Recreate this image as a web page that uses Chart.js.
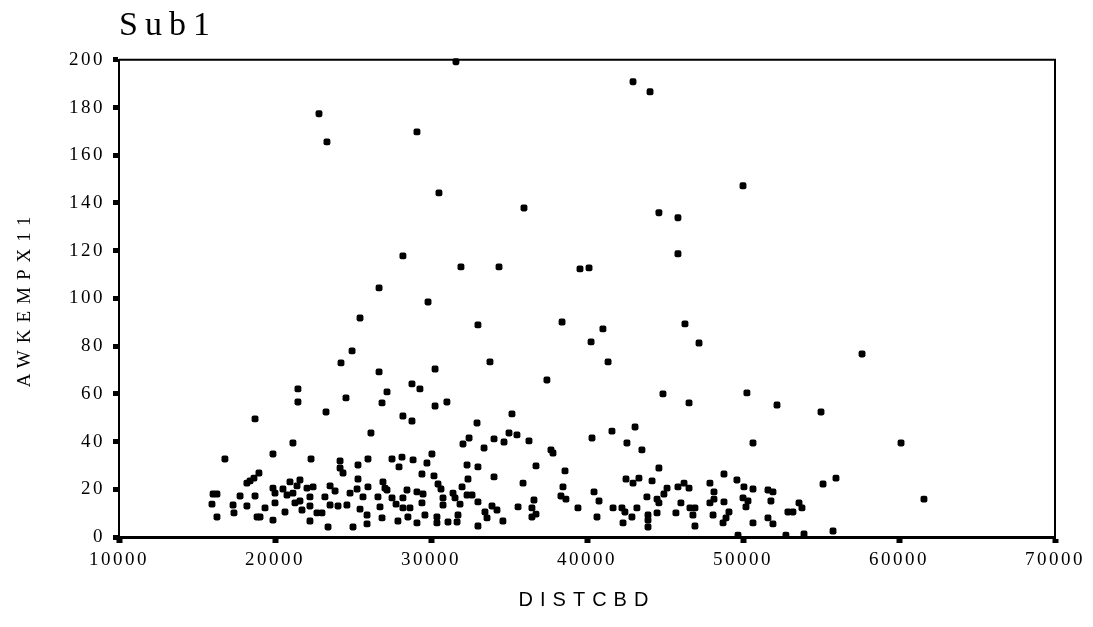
<!DOCTYPE html>
<html>
<head>
<meta charset="utf-8">
<script src="https://cdn.jsdelivr.net/npm/chart.js@4.4.0/dist/chart.umd.min.js"></script>
<style>
html, body { margin: 0; padding: 0; background: #fff; }
#wrap { width: 1093px; height: 627px; }
</style>
</head>
<body>
<div id="wrap"><canvas id="scatter-chart" width="1093" height="627"></canvas></div>
<script>
// tick labels
var xTicks = [10000, 20000, 30000, 40000, 50000, 60000, 70000];
var yTicks = [0, 20, 40, 60, 80, 100, 120, 140, 160, 180, 200];

// scattered high values
var upperX = [22820, 23330, 29100, 31600, 30510, 35960, 28200, 31920, 34360, 39550, 40130, 42950, 44040, 44610, 45830, 45830, 50000, 57630,
    25450, 24940, 24230, 26670, 29810, 33010, 38400, 41020, 46280, 40260, 47180, 41350, 33780, 30260, 26670, 37430];
var upperY = [177.4, 165.6, 169.8, 199.2, 144.2, 137.9, 117.8, 113.2, 113.2, 112.4, 112.8, 190.8, 186.6, 135.9, 133.8, 118.7, 147.2, 76.7,
    91.8, 78.0, 73.0, 104.4, 98.5, 88.9, 90.1, 87.2, 89.3, 81.8, 81.3, 73.4, 73.4, 70.4, 69.2, 65.8];

// dense band, DISTCBD < 25500
var bandAX = [16030, 16280, 15960, 16280, 16790, 17310, 17370, 17760, 18200, 18200, 18400, 18650, 18970, 18720, 18850, 19040, 18720, 19360,
    19870, 20000, 19870, 20000, 20510, 20770, 20640, 20960, 21150, 21280, 21150, 19870, 21410, 21600, 21600, 21730, 21470, 21470,
    22050, 22240, 22240, 22440, 22310, 22690, 22240, 23010, 23200, 23400, 23530, 23530, 23850, 24040, 24170, 24170, 24360, 24550,
    24610, 24810, 25000, 25260, 25320, 25320, 25450, 23270];
var bandAY = [18.0, 18.0, 13.8, 8.4, 32.7, 13.4, 10.1, 17.2, 13.0, 22.6, 23.5, 24.7, 26.8, 17.2, 8.4, 8.4, 49.5, 12.2,
    7.1, 14.3, 20.5, 18.4, 20.1, 17.6, 10.5, 23.1, 18.4, 14.3, 39.4, 34.8, 21.4, 23.9, 15.1, 11.3, 62.1, 56.6,
    20.5, 16.8, 13.0, 21.0, 32.7, 10.1, 6.7, 10.1, 16.8, 4.2, 13.4, 21.4, 19.3, 13.0, 31.9, 28.9, 26.8, 58.3,
    13.4, 18.4, 4.2, 20.1, 24.3, 30.2, 11.7, 52.4];

// 25500 - 31000
var bandBX = [25640, 25900, 25900, 25960, 25960, 26150, 26600, 26730, 26860, 26860, 26920, 27050, 27180, 27180, 27500, 27500,
    27760, 27880, 27950, 28140, 28200, 28200, 28200, 28460, 28520, 28650, 28780, 28780, 28850, 29100, 29100, 29290,
    29420, 29420, 29490, 29610, 29740, 30060, 30190, 30260, 30380, 30380, 30450, 30640, 30770, 30770];
var bandBY = [16.8, 9.2, 5.5, 32.7, 21.0, 43.6, 16.8, 12.6, 8.0, 56.2, 23.1, 20.5, 19.7, 60.8, 32.7, 16.4,
    13.8, 6.7, 29.4, 33.5, 50.7, 16.4, 12.2, 19.7, 8.4, 12.2, 64.2, 48.6, 32.3, 18.9, 5.9, 62.1,
    26.4, 14.3, 18.0, 9.2, 31.0, 34.8, 25.6, 54.9, 8.4, 5.9, 22.2, 20.1, 16.4, 13.4];

// 31000 - 38000
var bandCX = [31020, 31090, 31410, 31540, 31670, 31730, 31860, 31990, 32050, 32310, 32310, 32370, 32440, 32630, 32950, 33010,
    33010, 33010, 33400, 33460, 33590, 33910, 34040, 34040, 34230, 34610, 34680, 35000, 35190, 35510, 35580, 35900,
    36280, 36470, 36470, 36600, 36730, 36730, 37690, 37820];
var bandCY = [56.6, 6.3, 18.4, 16.4, 6.3, 9.2, 13.8, 21.0, 39.0, 30.2, 17.6, 24.3, 41.5, 17.6, 47.8, 29.4,
    14.7, 4.6, 37.3, 10.5, 8.0, 13.0, 41.1, 25.2, 11.3, 6.7, 39.8, 43.6, 51.6, 42.8, 12.6, 22.6,
    40.3, 12.2, 8.4, 15.5, 9.6, 29.8, 36.5, 35.2];

// 38000 and beyond
var bandDX = [38330, 38460, 38590, 38650, 39420, 40320, 40450, 40640, 40770, 41600, 41670, 42240, 42310, 42430, 42500, 42560,
    42880, 42950, 43080, 43200, 43330, 43520, 43840, 43910, 43910, 43910, 44170, 44490, 44490, 44610, 44610, 44870,
    44930, 45130, 45700, 45830, 46020, 46220, 46540, 46540, 46600, 46790, 46920, 46920, 47880, 47880, 48080, 48140,
    48140, 48720, 48780, 48780, 48910, 49100, 49610, 49680, 50000, 50060, 50190, 50250, 50320, 50640, 50640, 50640,
    51600, 51600, 51790, 51920, 51920, 52180, 52750, 52880, 53200, 53590, 53780, 53910, 55000, 55130, 55770, 55960,
    60130, 61600];
var bandDY = [17.2, 21.0, 27.7, 15.9, 12.2, 41.5, 18.9, 8.4, 15.1, 44.4, 12.2, 12.2, 5.9, 10.5, 24.3, 39.4,
    8.4, 22.6, 46.1, 12.2, 24.7, 36.5, 16.8, 9.2, 7.1, 4.2, 23.5, 15.9, 10.1, 14.3, 28.9, 60.0,
    18.0, 20.5, 10.1, 21.0, 14.3, 22.6, 56.2, 20.5, 12.2, 9.2, 12.2, 4.6, 22.6, 14.3, 9.2, 18.9,
    15.9, 5.9, 26.4, 14.7, 8.0, 10.5, 23.9, 0.8, 16.4, 21.0, 12.6, 60.4, 15.1, 39.4, 20.1, 5.9,
    19.7, 8.0, 15.1, 18.9, 5.5, 55.3, 0.8, 10.5, 10.5, 14.3, 12.2, 1.3, 52.4, 22.2, 2.5, 24.7,
    39.4, 15.9];

function pairs(xs, ys) {
    return xs.map(function (x, i) { return { x: x, y: ys[i] }; });
}

var points = [].concat(
    pairs(upperX, upperY),
    pairs(bandAX, bandAY),
    pairs(bandBX, bandBY),
    pairs(bandCX, bandCY),
    pairs(bandDX, bandDY)
);

// box round the plot + the wide letter spacing of the scan
var framePlugin = {
    id: 'frame',
    beforeDraw: function (chart) {
        chart.ctx.letterSpacing = '7px';
    },
    afterDatasetsDraw: function (chart) {
        chart.ctx.letterSpacing = '2.5px';
    },
    afterDraw: function (chart) {
        var a = chart.chartArea, ctx = chart.ctx;
        ctx.save();
        ctx.strokeStyle = '#000';
        ctx.lineWidth = 2;
        ctx.beginPath();
        ctx.moveTo(a.left, a.top);
        ctx.lineTo(a.right, a.top);
        ctx.lineTo(a.right, a.bottom);
        ctx.stroke();
        ctx.restore();
        ctx.letterSpacing = '0px';
    }
};

new Chart(document.getElementById('scatter-chart'), {
    type: 'scatter',
    data: {
        datasets: [{
            label: 'AWKEMPX11',
            data: points,
            backgroundColor: '#000',
            borderWidth: 0,
            pointStyle: 'rectRounded',
            pointRadius: 4,
            clip: false
        }]
    },
    options: {
        responsive: false,
        animation: false,
        layout: { padding: { top: 0, right: 38, bottom: 0, left: 0 } },
        plugins: {
            legend: { display: false },
            tooltip: { enabled: false },
            title: {
                display: true,
                text: 'Sub1',
                align: 'start',
                fullSize: false,
                color: '#000',
                font: { family: 'Liberation Serif', size: 34, weight: 'normal' },
                padding: { top: 6, bottom: 13 }
            }
        },
        scales: {
            x: {
                type: 'linear',
                min: 10000,
                max: 70000,
                afterBuildTicks: function (axis) {
                    axis.ticks = xTicks.map(function (v) { return { value: v }; });
                },
                afterFit: function (scale) { scale.height = 90; },
                ticks: {
                    z: 1,
                    color: '#000',
                    padding: 6,
                    maxRotation: 0,
                    font: { family: 'Liberation Serif', size: 19 },
                    callback: function (v) { return String(v); }
                },
                grid: {
                    display: true,
                    drawOnChartArea: false,
                    drawTicks: true,
                    tickLength: 6,
                    tickWidth: 6,
                    tickColor: '#000'
                },
                border: { display: true, color: '#000', width: 3 },
                title: {
                    display: true,
                    text: 'DISTCBD',
                    color: '#000',
                    font: { family: 'Liberation Sans', size: 20 },
                    padding: { top: 0, bottom: 15 }
                }
            },
            y: {
                type: 'linear',
                min: 0,
                max: 200,
                afterBuildTicks: function (axis) {
                    axis.ticks = yTicks.map(function (v) { return { value: v }; });
                },
                afterFit: function (scale) { scale.width = 119; },
                ticks: {
                    z: 1,
                    color: '#000',
                    padding: 8,
                    font: { family: 'Liberation Serif', size: 19 },
                    callback: function (v) { return String(v); }
                },
                grid: {
                    display: true,
                    drawOnChartArea: false,
                    drawTicks: true,
                    tickLength: 6,
                    tickWidth: 5,
                    tickColor: '#000'
                },
                border: { display: true, color: '#000', width: 2 },
                title: {
                    display: true,
                    text: 'AWKEMPX11',
                    color: '#000',
                    font: { family: 'Liberation Serif', size: 19 },
                    padding: { top: 14, bottom: 0 }
                }
            }
        }
    },
    plugins: [framePlugin]
});
</script>
</body>
</html>
